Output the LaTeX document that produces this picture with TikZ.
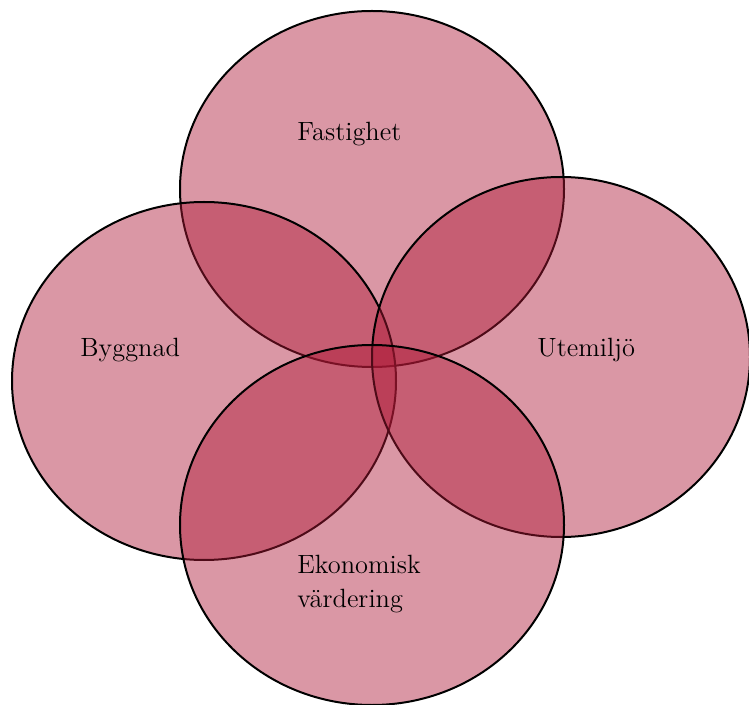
\documentclass[tikz,border=0pt]{standalone}
\usepackage{tikz}
\definecolor{vennred}{RGB}{174,25,55}

\tikzset{
    blob/.style={draw=black, line width=1pt, fill=vennred, fill opacity=0.45},
    label/.style={anchor=base west, inner sep=0pt, font=\fontsize{13.2}{16}\selectfont}
}

\begin{document}
\begin{tikzpicture}[x=0.5pt, y=-0.5pt]
\useasboundingbox (0,0) rectangle (749,705);
\draw[blob] (372,189) ellipse [x radius=192, y radius=178];
\draw[blob] (204,381) ellipse [x radius=192, y radius=179];
\draw[blob] (561,357) ellipse [x radius=189, y radius=180];
\draw[blob] (372,525) ellipse [x radius=192, y radius=180];

\node[label] (fastighet) at (297,141) {Fastighet};
\node[label] (byggnad) at (80,357) {Byggnad};
\node[label] (utemiljo) at (537,357) {Utemiljö};
\node[label] (ekonomisk) at (297,573) {Ekonomisk};
\node[label] (vardering) at (297,607) {värdering};
\end{tikzpicture}
\end{document}
